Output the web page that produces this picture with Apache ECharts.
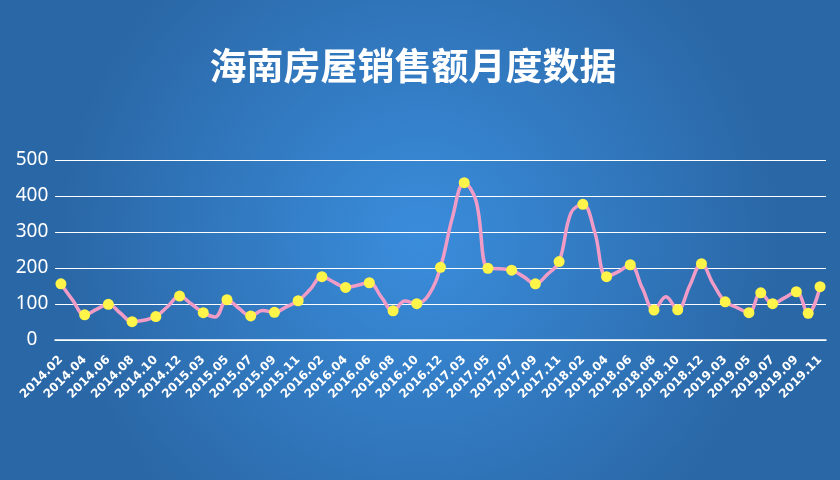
<!DOCTYPE html>
<html>
<head>
<meta charset="utf-8">
<script src="https://cdn.jsdelivr.net/npm/echarts@6/dist/echarts.min.js"></script>
<style>
html,body{margin:0;padding:0;}
#chart{width:840px;height:480px;}
</style>
</head>
<body>
<div id="chart"></div>
<script>
var titleText = '海南房屋销售额月度数据';
var categories = [
  '2014.02','2014.03','2014.04','2014.05','2014.06','2014.07','2014.08','2014.09','2014.10','2014.11','2014.12',
  '2015.02','2015.03','2015.04','2015.05','2015.06','2015.07','2015.08','2015.09','2015.10','2015.11','2015.12',
  '2016.02','2016.03','2016.04','2016.05','2016.06','2016.07','2016.08','2016.09','2016.10','2016.11','2016.12',
  '2017.02','2017.03','2017.04','2017.05','2017.06','2017.07','2017.08','2017.09','2017.10','2017.11','2017.12',
  '2018.02','2018.03','2018.04','2018.05','2018.06','2018.07','2018.08','2018.09','2018.10','2018.11','2018.12',
  '2019.02','2019.03','2019.04','2019.05','2019.06','2019.07','2019.08','2019.09','2019.10','2019.11'
];
var salesValues = [
  156, 110, 70, 85, 99, 75, 51, 55, 65, 93, 122,
  100, 76, 64, 112, 88, 67, 82, 77, 92, 109, 140,
  176, 161, 146, 152, 159, 120, 81, 108, 101, 125, 202,
  340, 437, 386, 199, 198, 194, 176, 156, 182, 218, 353,
  377, 300, 176, 190, 209, 145, 83, 120, 84, 150, 212,
  155, 106, 90, 76, 131, 101, 117, 134, 74, 148
];
var markedMonths = [
  '2014.02','2014.04','2014.06','2014.08','2014.10','2014.12',
  '2015.03','2015.05','2015.07','2015.09','2015.11',
  '2016.02','2016.04','2016.06','2016.08','2016.10','2016.12',
  '2017.03','2017.05','2017.07','2017.09','2017.11',
  '2018.02','2018.04','2018.06','2018.08','2018.10','2018.12',
  '2019.03','2019.05','2019.06','2019.07','2019.09','2019.10','2019.11'
];
var yTicks = [0, 100, 200, 300, 400, 500];

var chart = echarts.init(document.getElementById('chart'));
chart.setOption({
  backgroundColor: {
    type: 'radial', x: 0.5, y: 0.5, r: 0.75,
    colorStops: [{offset: 0, color: '#3a8ddc'}, {offset: 1, color: '#2a67a6'}]
  },
  title: {
    text: titleText,
    left: 408, top: 42, textAlign: 'center',
    textStyle: {color: '#ffffff', fontSize: 37, fontWeight: 'bold', fontFamily: '"Noto Sans CJK SC", sans-serif'}
  },
  grid: {left: 55, right: 14, top: 160, bottom: 140},
  xAxis: {
    type: 'category',
    data: categories,
    boundaryGap: true,
    axisLine: {lineStyle: {color: '#ffffff', width: 1.5}},
    axisTick: {alignWithLabel: true, interval: 1, length: 4, lineStyle: {color: '#ffffff', width: 1.5}},
    axisLabel: {
      interval: 1, rotate: 45, color: '#ffffff', fontSize: 12, fontWeight: 'bold',
      fontFamily: '"DejaVu Sans", sans-serif', margin: 18
    }
  },
  yAxis: {
    type: 'value',
    min: yTicks[0], max: yTicks[yTicks.length - 1], interval: 100,
    axisLine: {show: false},
    axisTick: {show: false},
    splitLine: {lineStyle: {color: '#ffffff', width: 1.2}},
    axisLabel: {color: '#ffffff', fontSize: 19, align: 'center', margin: 23, fontFamily: '"Noto Sans", sans-serif'}
  },
  series: [{
    type: 'line',
    data: salesValues,
    smooth: 0.4,
    showAllSymbol: true,
    symbol: function (value, params) {
      return markedMonths.indexOf(categories[params.dataIndex]) >= 0 ? 'circle' : 'none';
    },
    symbolSize: 11,
    itemStyle: {color: '#fff44a', borderWidth: 0},
    lineStyle: {color: '#f09cc6', width: 3.5},
    z: 3
  }],
  animation: false
});
</script>
</body>
</html>
